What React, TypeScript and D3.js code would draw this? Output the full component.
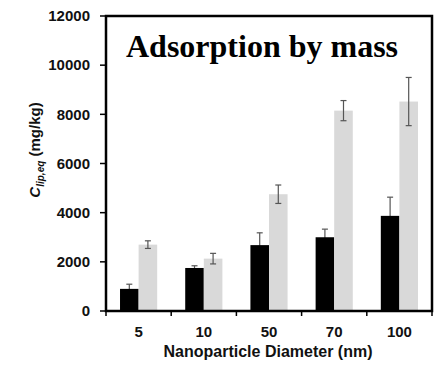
import React from "react";
import * as d3 from "d3";

// Nanoparticle diameters (nm) and lipid-normalised adsorbed concentrations (mg/kg)
const diameters = ["5", "10", "50", "70", "100"];
const seriesA = [900, 1750, 2680, 3000, 3870];
const seriesAErr = [190, 90, 500, 330, 760];
const seriesB = [2700, 2130, 4750, 8150, 8520];
const seriesBErr = [155, 215, 375, 410, 980];
const yTicks = [0, 2000, 4000, 6000, 8000, 10000, 12000];

const W = 443;
const H = 368;
const left = 106;
const right = 432;
const top = 16;
const bottom = 311;

const SANS = "'Liberation Sans', Arial, sans-serif";
const SERIF = "'Liberation Serif', 'Times New Roman', serif";

export default function App() {
  const x = d3
    .scaleBand<string>()
    .domain(diameters)
    .range([left, right])
    .paddingInner(0.43)
    .paddingOuter(0.215);
  const sub = d3
    .scaleBand<number>()
    .domain([0, 1])
    .range([0, x.bandwidth()])
    .padding(0);
  const y = d3.scaleLinear().domain([0, 12000]).range([bottom, top]);

  const series = [
    { vals: seriesA, errs: seriesAErr, fill: "#000000" },
    { vals: seriesB, errs: seriesBErr, fill: "#d9d9d9" },
  ];

  const step = x.step();
  const boundaries = d3.range(diameters.length + 1).map((i) => left + i * step);

  const errorBars = (si: number) => {
    const s = series[si];
    return diameters.map((d, i) => {
      const cx = (x(d) ?? 0) + (sub(si) ?? 0) + sub.bandwidth() / 2;
      const y1 = y(s.vals[i] + s.errs[i]);
      const y0 = y(s.vals[i] - s.errs[i]);
      return (
        <g key={`e${si}-${d}`} stroke="#555" strokeWidth={1.2}>
          <line x1={cx} x2={cx} y1={y1} y2={y0} />
          <line x1={cx - 3} x2={cx + 3} y1={y1} y2={y1} />
          <line x1={cx - 3} x2={cx + 3} y1={y0} y2={y0} />
        </g>
      );
    });
  };

  const bars = (si: number) => {
    const s = series[si];
    return diameters.map((d, i) => (
      <rect
        key={`b${si}-${d}`}
        x={(x(d) ?? 0) + (sub(si) ?? 0)}
        y={y(s.vals[i])}
        width={sub.bandwidth()}
        height={bottom - y(s.vals[i])}
        fill={s.fill}
      />
    ));
  };

  return (
    <svg
      width={W}
      height={H}
      style={{ position: "absolute", left: 0, top: 0, background: "#fff" }}
    >
      <rect width={W} height={H} fill="#fff" />

      {/* black series: error bars sit behind the bars */}
      {errorBars(0)}
      {bars(0)}
      {bars(1)}
      {errorBars(1)}

      {/* frame */}
      <rect
        x={left}
        y={top}
        width={right - left}
        height={bottom - top}
        fill="none"
        stroke="#000"
        strokeWidth={2.5}
      />

      {/* y axis ticks and labels */}
      {yTicks.map((t) => (
        <g key={`yt${t}`}>
          <line x1={left - 6} x2={left} y1={y(t)} y2={y(t)} stroke="#000" strokeWidth={1.5} />
          <text
            x={90}
            y={y(t)}
            dy="0.35em"
            textAnchor="end"
            fontFamily={SANS}
            fontWeight="bold"
            fontSize={15}
            fill="#111"
          >
            {t}
          </text>
        </g>
      ))}

      {/* x axis ticks and labels */}
      {boundaries.map((bx, i) => (
        <line key={`xt${i}`} x1={bx} x2={bx} y1={bottom} y2={bottom + 5} stroke="#000" strokeWidth={1.5} />
      ))}
      {diameters.map((d) => (
        <text
          key={`xl${d}`}
          x={(x(d) ?? 0) + x.bandwidth() / 2}
          y={337}
          textAnchor="middle"
          fontFamily={SANS}
          fontWeight="bold"
          fontSize={15}
          fill="#111"
        >
          {d}
        </text>
      ))}

      <text
        x={(left + right) / 2 - 1}
        y={357}
        textAnchor="middle"
        fontFamily={SANS}
        fontWeight="bold"
        fontSize={16}
        fill="#111"
      >
        Nanoparticle Diameter (nm)
      </text>

      <text
        transform={`translate(40, 150) rotate(-90)`}
        textAnchor="middle"
        fontFamily={SANS}
        fontWeight="bold"
        fontSize={15}
        fill="#111"
      >
        <tspan fontStyle="italic">C</tspan>
        <tspan fontSize={10} fontStyle="italic" dy={4}>lip,eq</tspan>
        <tspan dy={-4}> (mg/kg)</tspan>
      </text>

      <text
        x={262}
        y={57}
        textAnchor="middle"
        fontFamily={SERIF}
        fontWeight="bold"
        fontSize={32}
        fill="#000"
      >
        Adsorption by mass
      </text>
    </svg>
  );
}
